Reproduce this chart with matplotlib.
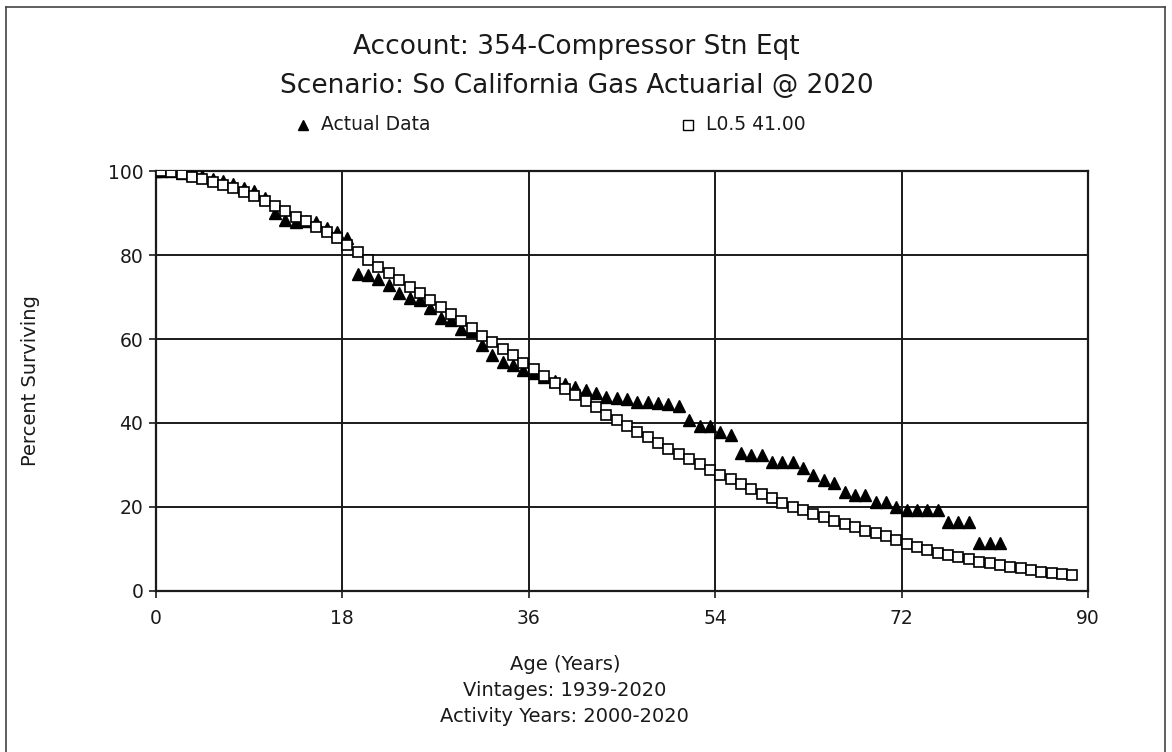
import numpy as np
import matplotlib
matplotlib.use("Agg")
import matplotlib.pyplot as plt
from matplotlib.lines import Line2D

# ── data ────────────────────────────────────────────────────────────────────
actual_age = np.concatenate([[0.0], np.arange(0.5, 82.0, 1.0)])
actual_pct = [
    100.0, 100.0, 99.9, 99.6, 99.2, 98.8, 98.2, 97.6, 96.8, 96.0,
    95.3, 93.6, 90.0, 88.3, 87.8, 88.0, 87.8, 86.4, 85.5, 84.0,
    75.4, 75.2, 74.4, 72.9, 70.9, 69.7, 69.4, 67.3, 64.9, 64.5,
    62.5, 61.8, 58.6, 56.2, 54.6, 53.8, 52.6, 52.0, 51.0, 50.0,
    49.2, 48.6, 47.9, 47.2, 46.3, 45.9, 45.6, 45.1, 45.1, 44.7,
    44.5, 44.0, 40.7, 39.4, 39.2, 37.9, 37.1, 32.8, 32.4, 32.4,
    30.8, 30.8, 30.8, 29.2, 27.6, 26.4, 25.6, 23.6, 22.9, 22.9,
    21.3, 21.2, 20.1, 19.3, 19.3, 19.3, 19.3, 16.5, 16.5, 16.5,
    11.5, 11.5, 11.5,
]

curve_age = np.concatenate([[0.0], np.arange(0.5, 89.0, 1.0)])
curve_pct = [
    100.0, 100.0, 99.7, 99.3, 98.6, 98.0, 97.5, 96.7, 95.9, 95.1,
    94.1, 92.9, 91.7, 90.5, 89.1, 88.1, 86.7, 85.5, 84.0, 82.4,
    80.6, 78.8, 77.2, 75.6, 74.0, 72.5, 70.9, 69.3, 67.7, 65.9,
    64.4, 62.6, 60.8, 59.2, 57.7, 56.1, 54.4, 52.9, 51.2, 49.6,
    48.1, 46.6, 45.2, 43.7, 42.0, 40.7, 39.3, 37.9, 36.6, 35.2,
    33.8, 32.6, 31.4, 30.2, 28.9, 27.6, 26.6, 25.5, 24.3, 23.1,
    22.1, 21.0, 20.1, 19.2, 18.3, 17.5, 16.7, 15.9, 15.2, 14.4,
    13.7, 13.0, 12.2, 11.3, 10.5, 9.8, 9.1, 8.6, 8.0, 7.5,
    7.0, 6.6, 6.2, 5.7, 5.4, 5.0, 4.6, 4.2, 4.0, 3.8,
]

x_ticks = [0, 18, 36, 54, 72, 90]
y_ticks = [0, 20, 40, 60, 80, 100]

title_lines = ["Account: 354-Compressor Stn Eqt",
               "Scenario: So California Gas Actuarial @ 2020"]
footer_lines = ["Age (Years)", "Vintages: 1939-2020", "Activity Years: 2000-2020"]

INK = "#1a1a1a"
plt.rcParams["font.family"] = ["DejaVu Sans"]

fig = plt.figure(figsize=(11.72, 7.52), dpi=100, facecolor="white")
ax = fig.add_axes([0.1329, 0.2141, 0.7954, 0.5585])

ax.plot(actual_age, actual_pct, linestyle="none", marker="^", markersize=8,
        color="black", zorder=3)
ax.plot(curve_age, curve_pct, linestyle="none", marker="s", markersize=7.5,
        markerfacecolor="white", markeredgecolor="black", markeredgewidth=1.2,
        zorder=4)

ax.set_xlim(0, 90)
ax.set_ylim(0, 100)
ax.set_xticks(x_ticks)
ax.set_yticks(y_ticks)
ax.grid(True, color=INK, linewidth=1.4)
ax.set_axisbelow(True)
for spine in ax.spines.values():
    spine.set_color(INK)
    spine.set_linewidth(1.6)
ax.tick_params(colors=INK, labelsize=13.5, length=5, width=1.2)
ax.tick_params(axis="x", pad=8)
ax.tick_params(axis="y", pad=4)
ax.set_ylabel("Percent Surviving", fontsize=14, color=INK)
ax.yaxis.set_label_coords(-0.124, 0.5)

# titles
fig.text(0.492, 0.937, title_lines[0], ha="center", va="center", fontsize=19, color=INK)
fig.text(0.492, 0.885, title_lines[1], ha="center", va="center", fontsize=19, color=INK)

# legend drawn by hand to keep the original spacing
fig.add_artist(Line2D([0.2585], [0.834], marker="^", markersize=7, color="black",
                      linestyle="none", transform=fig.transFigure))
fig.text(0.274, 0.834, "Actual Data", ha="left", va="center", fontsize=13.5, color=INK)
fig.add_artist(Line2D([0.587], [0.834], marker="s", markersize=6.5, markerfacecolor="white",
                      markeredgecolor="black", linestyle="none", transform=fig.transFigure))
fig.text(0.602, 0.834, "L0.5 41.00", ha="left", va="center", fontsize=13.5, color=INK)

# footer text
for i, line in enumerate(footer_lines):
    fig.text(0.482, 0.116 - i * 0.0345, line, ha="center", va="center",
             fontsize=14, color=INK)

# outer frame
for xs, ys in [([0.005, 0.005], [0.0, 0.991]),
               ([0.005, 0.994], [0.991, 0.991]),
               ([0.994, 0.994], [0.0, 0.991])]:
    fig.add_artist(Line2D(xs, ys, color="#444444", linewidth=1.2,
                          transform=fig.transFigure))

fig.savefig("out.png", dpi=100, facecolor="white")
